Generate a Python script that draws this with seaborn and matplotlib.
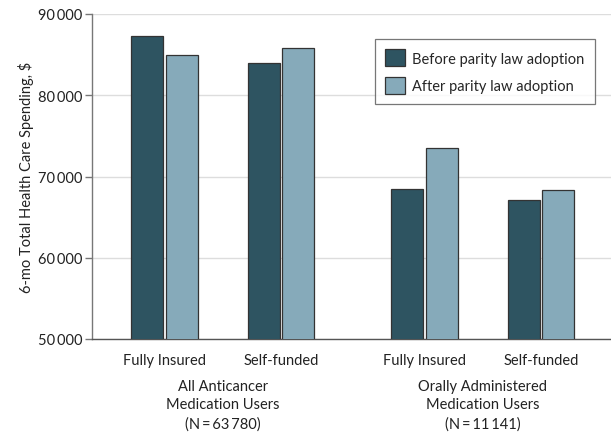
import numpy as np
import pandas as pd
import matplotlib
matplotlib.use("Agg")
import matplotlib.pyplot as plt
import seaborn as sns
from matplotlib.ticker import FuncFormatter

# ---------- data ----------
populations = ["All Anticancer\nMedication Users\n(N\u2009=\u200963\u2009780)",
               "Orally Administered\nMedication Users\n(N\u2009=\u200911\u2009141)"]
plan_types = ["Fully Insured", "Self-funded"]
periods = ["Before parity law adoption", "After parity law adoption"]
before_vals = [87300, 84000, 68450, 67150]
after_vals = [84950, 85800, 73500, 68300]

# ---------- long table ----------
group_gap = 0.23
rows = []
for i in range(4):
    pos = (i % 2) + (i // 2) * (2 + group_gap)
    rows.append({"pos": pos, "plan": plan_types[i % 2], "period": periods[0], "spend": before_vals[i]})
    rows.append({"pos": pos, "plan": plan_types[i % 2], "period": periods[1], "spend": after_vals[i]})
df = pd.DataFrame(rows)

sns.set_theme(style="white")
plt.rcParams["font.family"] = ["Lato", "DejaVu Sans"]

fig = plt.figure(figsize=(6.11, 4.35), dpi=100)
ax = fig.add_axes([92 / 611, 1 - 340 / 435, 1 - 92 / 611, (340 - 15) / 435])

sns.barplot(data=df, x="pos", y="spend", hue="period", hue_order=periods,
            palette=["#2E5461", "#86AABA"], saturation=1, native_scale=True,
            width=0.59, gap=0.07, edgecolor="#333333", linewidth=0.9,
            errorbar=None, ax=ax, zorder=3)

ax.set_ylim(50000, 90000)
ax.set_yticks([50000, 60000, 70000, 80000, 90000])
ax.yaxis.set_major_formatter(FuncFormatter(lambda v, p: f"{int(v):,}".replace(",", "\u2009")))
ax.yaxis.grid(True, color="#DDDDDD", linewidth=1, zorder=0)
ax.set_axisbelow(True)

positions = sorted(df["pos"].unique())
ax.set_xlim(positions[0] - 0.622, positions[-1] + 0.6)
ax.set_xticks(positions)
ax.set_xticklabels([plan_types[i % 2] for i in range(4)], fontsize=10.5, color="#222222")
ax.tick_params(axis="x", length=0, pad=10)
ax.tick_params(axis="y", left=True, length=5, width=1, color="#777777",
               labelsize=10.5, labelcolor="#222222", pad=2)

for s in ["top", "right"]:
    ax.spines[s].set_visible(False)
ax.spines["left"].set_color("#777777")
ax.spines["bottom"].set_color("#555555")
ax.spines["left"].set_linewidth(1)
ax.spines["bottom"].set_linewidth(1)

ax.set_xlabel("")
ax.set_ylabel("6-mo Total Health Care Spending, $", fontsize=10.5, color="#222222", labelpad=3)

for g in range(2):
    cx = (positions[2 * g] + positions[2 * g + 1]) / 2
    ax.text(cx, -0.122, populations[g], transform=ax.get_xaxis_transform(),
            ha="center", va="top", fontsize=10.5, color="#222222", linespacing=1.42)

leg = ax.legend(loc="upper right", bbox_to_anchor=(0.969, 0.923), borderaxespad=0,
                frameon=True, fontsize=10.5, fancybox=False, edgecolor="#555555",
                handlelength=1.4, handleheight=1.4, handletextpad=0.5,
                borderpad=0.7, labelspacing=0.75)
leg.get_frame().set_linewidth(0.9)
leg.set_title(None)

fig.savefig("out.png", dpi=100)
